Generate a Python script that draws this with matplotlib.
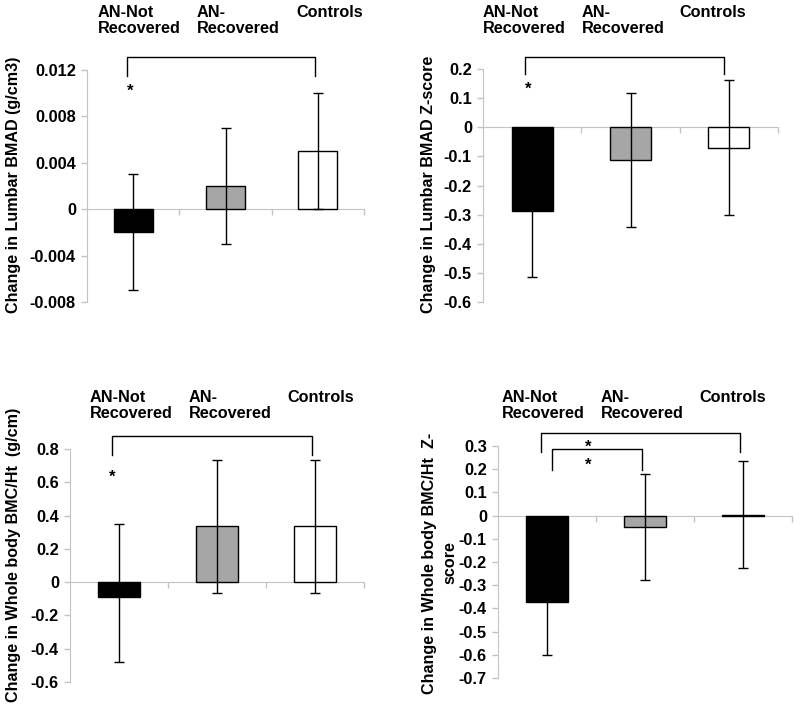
import matplotlib
matplotlib.use("Agg")
import matplotlib.pyplot as plt
import numpy as np

plt.rcParams['font.family'] = ['Liberation Sans', 'DejaVu Sans']
plt.rcParams['font.weight'] = 'bold'

# ---- data ----
categories = ["AN-Not\nRecovered", "AN-\nRecovered", "Controls"]
bar_colors = ["#000000", "#a6a6a6", "#ffffff"]

lumbar_bmad = [-0.002, 0.002, 0.005]
lumbar_bmad_err = [0.005, 0.005, 0.005]
lumbar_bmad_ticks = [-0.008, -0.004, 0, 0.004, 0.008, 0.012]
lumbar_bmad_ticklabels = ["-0.008", "-0.004", "0", "0.004", "0.008", "0.012"]

lumbar_z = [-0.288, -0.113, -0.070]
lumbar_z_err = [0.227, 0.229, 0.231]
lumbar_z_ticks = [-0.6, -0.5, -0.4, -0.3, -0.2, -0.1, 0, 0.1, 0.2]
lumbar_z_ticklabels = ["-0.6", "-0.5", "-0.4", "-0.3", "-0.2", "-0.1", "0", "0.1", "0.2"]

wb_bmc = [-0.09, 0.335, 0.335]
wb_bmc_err_low = [0.39, 0.40, 0.40]
wb_bmc_err_high = [0.44, 0.40, 0.40]
wb_bmc_ticks = [-0.6, -0.4, -0.2, 0, 0.2, 0.4, 0.6, 0.8]
wb_bmc_ticklabels = ["-0.6", "-0.4", "-0.2", "0", "0.2", "0.4", "0.6", "0.8"]

wb_z = [-0.373, -0.049, 0.004]
wb_z_err = [0.227, 0.229, 0.230]
wb_z_ticks = [-0.7, -0.6, -0.5, -0.4, -0.3, -0.2, -0.1, 0, 0.1, 0.2, 0.3]
wb_z_ticklabels = ["-0.7", "-0.6", "-0.5", "-0.4", "-0.3", "-0.2", "-0.1", "0", "0.1", "0.2", "0.3"]

W, H = 800, 711
fig = plt.figure(figsize=(W / 100, H / 100), dpi=100)
AX_GRAY = "#c4c4c4"


def px_axes(l, t, r, b):
    return fig.add_axes([l / W, 1 - b / H, (r - l) / W, (b - t) / H])


def draw_panel(ax, vals, err, ticks, ticklabels):
    x = np.arange(len(vals))
    ax.bar(x, vals, width=0.42, color=bar_colors, edgecolor="black",
           linewidth=1.0, zorder=2)
    ax.errorbar(x, vals, yerr=err, fmt="none", ecolor="black",
                elinewidth=1.0, capsize=3.6, capthick=1.0, zorder=3)
    ax.set_xlim(-0.5, 2.5)
    ax.set_ylim(ticks[0], ticks[-1])
    ax.set_yticks(ticks)
    ax.set_yticklabels(ticklabels, fontsize=11.8, fontweight="bold")
    ax.set_xticks([0.5, 1.5, 2.5])
    ax.set_xticklabels(["", "", ""])
    for s in ["top", "right"]:
        ax.spines[s].set_visible(False)
    ax.spines["left"].set_color(AX_GRAY)
    ax.spines["bottom"].set_color(AX_GRAY)
    ax.spines["bottom"].set_position(("data", 0))
    ax.spines["bottom"].set_zorder(1)
    ax.tick_params(axis="y", colors=AX_GRAY, labelcolor="black", length=4,
                   width=1, pad=4)
    ax.tick_params(axis="x", colors=AX_GRAY, length=4, width=1)
    ax.patch.set_alpha(0)


def bracket(ax, x1, x2, ytop, yend1, yend2):
    ax.plot([x1, x1, x2, x2], [yend1, ytop, ytop, yend2], color="black",
            lw=1.0, clip_on=False, zorder=4)


def star(ax, xs, ys):
    ax.text(xs, ys, "*", ha="center", va="center", fontsize=12,
            fontweight="bold", clip_on=False)


def cat_labels(xs_px, top_px):
    for xp, lab in zip(xs_px, categories):
        fig.text(xp / W, 1 - top_px / H, lab, ha="left", va="top",
                 fontsize=11.7, fontweight="bold", linespacing=1.1)


def ylab(xp, yp, s, ls=1.3):
    fig.text(xp / W, 1 - yp / H, s, rotation=90, ha="center", va="center",
             fontsize=11.6, fontweight="bold", linespacing=ls)


# Panel 1
ax1 = px_axes(87, 70, 364, 302)
draw_panel(ax1, lumbar_bmad, lumbar_bmad_err, lumbar_bmad_ticks, lumbar_bmad_ticklabels)
bracket(ax1, -0.07, 2.0 - 0.03, 0.0131, 0.0115, 0.0115)
star(ax1, -0.03, 0.0102)
cat_labels([98, 197, 296], 5)
ylab(14, 185, "Change in Lumbar BMAD (g/cm3)")

# Panel 2
ax2 = px_axes(483, 69, 778, 302)
draw_panel(ax2, lumbar_z, lumbar_z_err, lumbar_z_ticks, lumbar_z_ticklabels)
bracket(ax2, -0.07, 1.95, 0.241, 0.184, 0.184)
star(ax2, -0.04, 0.13)
cat_labels([483, 582, 679], 5)
ylab(429, 184, "Change in Lumbar BMAD Z-score")

# Panel 3
ax3 = px_axes(70, 449, 364, 682)
draw_panel(ax3, wb_bmc, [wb_bmc_err_low, wb_bmc_err_high], wb_bmc_ticks, wb_bmc_ticklabels)
bracket(ax3, -0.07, 1.97, 0.876, 0.766, 0.766)
star(ax3, -0.07, 0.63)
cat_labels([90, 189, 287], 390)
ylab(14, 555, "Change in Whole body BMC/Ht  (g/cm)")

# Panel 4
ax4 = px_axes(498, 446, 792, 678)
draw_panel(ax4, wb_z, wb_z_err, wb_z_ticks, wb_z_ticklabels)
bracket(ax4, -0.06, 1.97, 0.354, 0.276, 0.276)
bracket(ax4, 0.05, 0.97, 0.285, 0.197, 0.197)
star(ax4, 0.42, 0.295)
star(ax4, 0.42, 0.215)
cat_labels([502, 601, 699], 390)
ylab(440, 563, "Change in Whole body BMC/Ht  Z-\nscore", ls=1.45)

fig.savefig("out.png", dpi=100)
